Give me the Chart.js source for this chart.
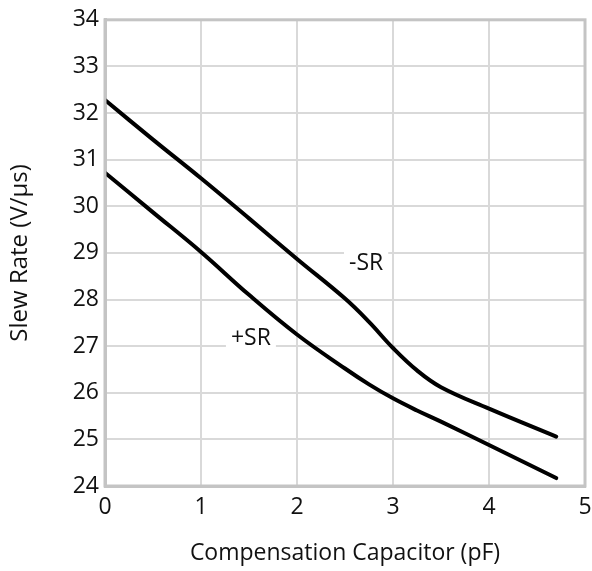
<!DOCTYPE html>
<html>
<head>
<meta charset="utf-8">
<script src="https://cdn.jsdelivr.net/npm/chart.js@4"></script>
<style>
  html, body { margin: 0; padding: 0; background: #fff; }
  #wrap { width: 592px; height: 571px; }
</style>
</head>
<body>
<div id="wrap"><canvas id="slewChart"></canvas></div>
<script>
// du lieu doc tu hinh
const capValues = [0, 0.5, 1, 1.5, 2, 2.5, 2.75, 3, 3.25, 3.5, 4, 4.7];
const negSR = [32.28, 31.43, 30.6, 29.74, 28.87, 28.02, 27.52, 26.96, 26.48, 26.12, 25.66, 25.06];
const posSR = [30.72, 29.87, 29.02, 28.1, 27.25, 26.52, 26.18, 25.88, 25.62, 25.38, 24.88, 24.17];
const xTicks = [0, 1, 2, 3, 4, 5];
const yTicks = [24, 25, 26, 27, 28, 29, 30, 31, 32, 33, 34];

// nhan tren duong
const curveLabels = [
  { text: "-SR", x: 2.72, y: 28.78 },
  { text: "+SR", x: 1.52, y: 27.17 }
];

const fontFamily = "'Open Sans', 'DejaVu Sans', sans-serif";

function toPoints(xs, ys) {
  return xs.map((x, i) => ({ x: x, y: ys[i] }));
}

// ve nhan co nen trang
const labelPlugin = {
  id: "curveLabels",
  afterDatasetsDraw(chart) {
    const ctx = chart.ctx;
    const xs = chart.scales.x;
    const ys = chart.scales.y;
    ctx.save();
    ctx.font = "23px " + fontFamily;
    ctx.textAlign = "center";
    ctx.textBaseline = "middle";
    curveLabels.forEach(l => {
      const px = xs.getPixelForValue(l.x);
      const py = ys.getPixelForValue(l.y);
      const w = ctx.measureText(l.text).width + 10;
      ctx.fillStyle = "#fff";
      ctx.fillRect(px - w / 2, py - 18, w, 36);
      ctx.fillStyle = "#111";
      ctx.fillText(l.text, px, py);
    });
    ctx.restore();
  }
};

const lineStyle = {
  borderColor: "#000",
  borderWidth: 4,
  pointRadius: 0,
  fill: false,
  tension: 0.4,
  borderCapStyle: "round"
};

new Chart(document.getElementById("slewChart").getContext("2d"), {
  type: "line",
  data: {
    datasets: [
      Object.assign({ label: "-SR", data: toPoints(capValues, negSR) }, lineStyle),
      Object.assign({ label: "+SR", data: toPoints(capValues, posSR) }, lineStyle)
    ]
  },
  options: {
    responsive: true,
    maintainAspectRatio: false,
    animation: false,
    layout: { padding: { top: 4, right: 7, left: 6, bottom: 0 } },
    plugins: {
      legend: { display: false },
      tooltip: { enabled: false }
    },
    scales: {
      x: {
        type: "linear",
        min: 0,
        max: 5,
        afterBuildTicks: s => { s.ticks = xTicks.map(v => ({ value: v })); },
        afterFit: s => { s.height = 85; s.paddingRight = 0; },
        grid: { color: "#d9d9d9", lineWidth: 2, drawTicks: false },
        border: { color: "#c4c4c4", width: 3 },
        ticks: { color: "#111", padding: 8, font: { size: 23, family: fontFamily } },
        title: {
          display: true,
          text: "Compensation Capacitor (pF)",
          color: "#111",
          padding: { top: 6, bottom: 4 },
          font: { size: 23, family: fontFamily }
        }
      },
      y: {
        min: 24,
        max: 34,
        afterBuildTicks: s => { s.ticks = yTicks.map(v => ({ value: v })); },
        afterFit: s => { s.width = 99; },
        grid: { color: "#d9d9d9", lineWidth: 2, drawTicks: false },
        border: { color: "#c4c4c4", width: 3 },
        ticks: { color: "#111", padding: 6, font: { size: 23, family: fontFamily } },
        title: {
          display: true,
          text: "Slew Rate (V/µs)",
          color: "#111",
          padding: { top: 0, bottom: 8 },
          font: { size: 24, family: fontFamily }
        }
      }
    }
  },
  plugins: [labelPlugin, {
    id: "frame",
    afterDraw(chart) {
      const a = chart.chartArea;
      const ctx = chart.ctx;
      ctx.save();
      ctx.strokeStyle = "#c4c4c4";
      ctx.lineWidth = 3;
      ctx.strokeRect(a.left, a.top, a.right - a.left, a.bottom - a.top);
      ctx.restore();
    }
  }]
});
</script>
</body>
</html>
